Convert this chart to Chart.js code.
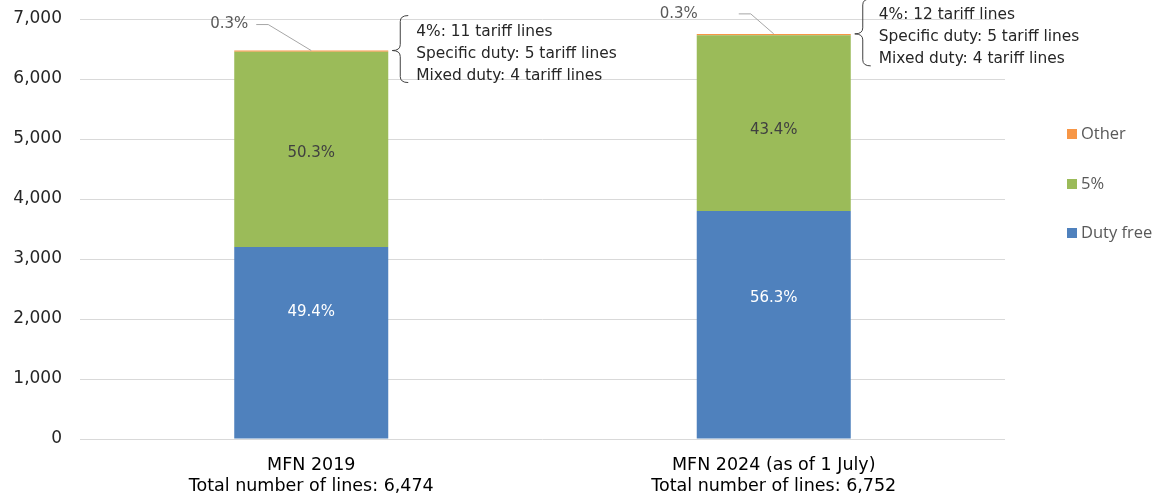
<!DOCTYPE html>
<html>
<head>
<meta charset="utf-8">
<script src="https://cdn.jsdelivr.net/npm/chart.js@4.4.1/dist/chart.umd.min.js"></script>
<style>
  html, body { margin: 0; padding: 0; background: #fff; }
  #wrap { width: 1160px; height: 495px; }
</style>
</head>
<body>
<div id="wrap"><canvas id="grafico"></canvas></div>
<script>
// --- DADOS ---
const categorias = [
    ['MFN 2019', 'Total number of lines: 6,474'],
    ['MFN 2024 (as of 1 July)', 'Total number of lines: 6,752']
];
const dutyFree = [3198, 3801];
const cinco = [3256, 2930];
const outros = [20, 21];
const notasOutros = [
    ['4%: 11 tariff lines', 'Specific duty: 5 tariff lines', 'Mixed duty: 4 tariff lines'],
    ['4%: 12 tariff lines', 'Specific duty: 5 tariff lines', 'Mixed duty: 4 tariff lines']
];
const ticksY = [0, 1000, 2000, 3000, 4000, 5000, 6000, 7000];

// --- CORES ---
const CORES = { duty: '#4f81bd', cinco: '#9bbb59', outros: '#f79646' };

// Ajuste vertical dos percentuais (px, relativo ao meio do segmento)
const rotuloDy = [[-31, -27], [4, 7]];

// Posição do rótulo "0.3%" relativo ao topo da barra
const calloutLayout = [
    { labelDx: -82, labelDy: -26, lineDx: -55 },
    { labelDx: -95, labelDy: -20, lineDx: -35 }
];

const FONTE = '"DejaVu Sans", Verdana, sans-serif';

// Plugin: rótulos, chaves e legenda
const rotulosPlugin = {
    id: 'rotulos',
    afterDatasetsDraw(chart) {
        const { ctx } = chart;
        const totais = dutyFree.map((v, i) => v + cinco[i] + outros[i]);
        ctx.save();
        ctx.font = '15px ' + FONTE;
        ctx.textAlign = 'center';
        ctx.textBaseline = 'middle';

        // percentuais dentro das barras
        [0, 1].forEach(ds => {
            const meta = chart.getDatasetMeta(ds);
            meta.data.forEach((el, i) => {
                const v = chart.data.datasets[ds].data[i];
                const pct = (v / totais[i] * 100).toFixed(1) + '%';
                ctx.fillStyle = ds === 0 ? '#ffffff' : '#404040';
                ctx.fillText(pct, el.x, (el.y + el.base) / 2 + rotuloDy[ds][i]);
            });
        });

        // "Other": rótulo com linha + chave com notas
        const metaO = chart.getDatasetMeta(2);
        metaO.data.forEach((el, i) => {
            const lay = calloutLayout[i];
            const pct = (outros[i] / totais[i] * 100).toFixed(1) + '%';
            const topo = el.y;
            ctx.font = '15px ' + FONTE;
            ctx.fillStyle = '#595959';
            ctx.textAlign = 'center';
            ctx.fillText(pct, el.x + lay.labelDx, topo + lay.labelDy);

            ctx.strokeStyle = '#a6a6a6';
            ctx.lineWidth = 1;
            ctx.beginPath();
            const ly = topo + lay.labelDy;
            ctx.moveTo(el.x + lay.lineDx, ly);
            ctx.lineTo(el.x + lay.lineDx + 12, ly);
            ctx.lineTo(el.x, topo);
            ctx.stroke();

            // chave
            const direita = el.x + el.width / 2;
            const xt = direita + 4, xs = xt + 8, xe = xs + 8, r = 6;
            const cima = topo - 35, baixo = topo + 32;
            ctx.strokeStyle = '#404040';
            ctx.beginPath();
            ctx.moveTo(xe, cima);
            ctx.quadraticCurveTo(xs, cima, xs, cima + r);
            ctx.lineTo(xs, topo - r);
            ctx.quadraticCurveTo(xs, topo, xt, topo);
            ctx.quadraticCurveTo(xs, topo, xs, topo + r);
            ctx.lineTo(xs, baixo - r);
            ctx.quadraticCurveTo(xs, baixo, xe, baixo);
            ctx.stroke();

            ctx.font = '15.4px ' + FONTE;
            ctx.fillStyle = '#262626';
            ctx.textAlign = 'left';
            notasOutros[i].forEach((linha, k) => {
                ctx.fillText(linha, direita + 28, topo - 19 + k * 22);
            });
        });

        // legenda manual
        const itens = [
            { txt: 'Other', cor: CORES.outros, y: 134 },
            { txt: '5%', cor: CORES.cinco, y: 184 },
            { txt: 'Duty free', cor: CORES.duty, y: 233 }
        ];
        ctx.font = '16.5px "Open Sans", sans-serif';
        ctx.textAlign = 'left';
        itens.forEach(it => {
            ctx.fillStyle = it.cor;
            ctx.fillRect(1067, it.y - 5, 10, 10);
            ctx.fillStyle = '#595959';
            ctx.fillText(it.txt, 1081, it.y);
        });
        ctx.restore();
    }
};

new Chart(document.getElementById('grafico'), {
    type: 'bar',
    data: {
        labels: categorias,
        datasets: [
            { label: 'Duty free', data: dutyFree, backgroundColor: CORES.duty },
            { label: '5%', data: cinco, backgroundColor: CORES.cinco },
            { label: 'Other', data: outros, backgroundColor: CORES.outros }
        ]
    },
    options: {
        responsive: true,
        maintainAspectRatio: false,
        animation: false,
        categoryPercentage: 1,
        barPercentage: 0.333,
        layout: { padding: { top: 19, right: 155, left: 0, bottom: 0 } },
        plugins: {
            legend: { display: false },
            tooltip: { enabled: false }
        },
        scales: {
            x: {
                stacked: true,
                grid: { display: false },
                border: { display: false },
                ticks: {
                    color: '#000',
                    padding: 8,
                    font: { family: FONTE, size: 17.5, lineHeight: 1.2 }
                },
                afterFit: (s) => { s.height = 56; s.paddingLeft = 0; s.paddingRight = 0; }
            },
            y: {
                stacked: true,
                min: 0,
                max: 7000,
                afterBuildTicks: (s) => { s.ticks = ticksY.map(v => ({ value: v })); },
                grid: { color: '#d9d9d9', drawTicks: false },
                border: { display: false },
                ticks: {
                    color: '#262626',
                    padding: 18,
                    font: { family: FONTE, size: 17 },
                    callback: (v) => v.toLocaleString('en-US')
                },
                afterFit: (s) => { s.width = 80; s.paddingTop = 0; s.paddingBottom = 0; }
            }
        }
    },
    plugins: [rotulosPlugin]
});
</script>
</body>
</html>
